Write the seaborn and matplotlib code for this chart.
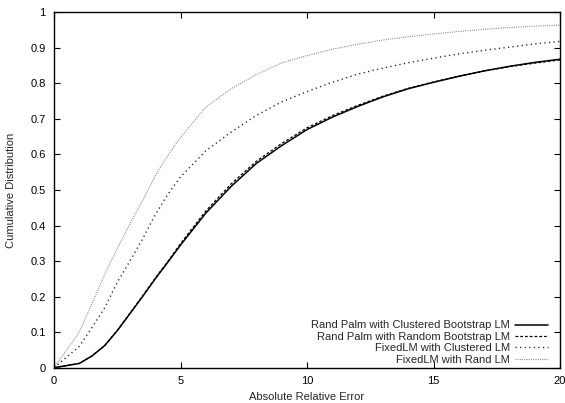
import numpy as np
import pandas as pd
import matplotlib
matplotlib.use("Agg")
import matplotlib.pyplot as plt
import seaborn as sns

# ---- data ----
x_vals = [0, 0.5, 1, 1.5, 2, 2.5, 3, 3.5, 4, 4.5, 5, 6, 7, 8, 9, 10,
          11, 12, 13, 14, 15, 16, 17, 18, 19, 20]

rand_palm_clustered = [0, 0.006, 0.012, 0.033, 0.062, 0.104, 0.152, 0.200, 0.250,
                       0.297, 0.345, 0.435, 0.510, 0.575, 0.625, 0.670, 0.705,
                       0.735, 0.762, 0.785, 0.803, 0.820, 0.835, 0.848, 0.859, 0.868]
rand_palm_random = [0, 0.006, 0.012, 0.033, 0.062, 0.105, 0.153, 0.202, 0.252,
                    0.299, 0.349, 0.441, 0.517, 0.581, 0.631, 0.675, 0.709,
                    0.738, 0.764, 0.786, 0.804, 0.820, 0.835, 0.847, 0.857, 0.866]
fixedlm_clustered = [0, 0.030, 0.060, 0.113, 0.168, 0.240, 0.300, 0.362, 0.430,
                     0.488, 0.537, 0.610, 0.663, 0.710, 0.748, 0.777, 0.803,
                     0.826, 0.843, 0.858, 0.871, 0.883, 0.893, 0.902, 0.911, 0.918]
fixedlm_rand = [0, 0.050, 0.100, 0.180, 0.262, 0.335, 0.405, 0.470, 0.540,
                0.597, 0.648, 0.733, 0.785, 0.825, 0.858, 0.878, 0.896,
                0.910, 0.922, 0.931, 0.939, 0.946, 0.952, 0.957, 0.961, 0.964]

series_names = ["Rand Palm with Clustered Bootstrap LM",
                "Rand Palm with Random Bootstrap LM",
                "FixedLM with Clustered LM",
                "FixedLM with Rand LM"]
series_values = [rand_palm_clustered, rand_palm_random, fixedlm_clustered, fixedlm_rand]

x_ticks = [0, 5, 10, 15, 20]
x_tick_labels = ["0", "5", "10", "15", "20"]
y_ticks = [0, 0.1, 0.2, 0.3, 0.4, 0.5, 0.6, 0.7, 0.8, 0.9, 1.0]
y_tick_labels = ["0", "0.1", "0.2", "0.3", "0.4", "0.5", "0.6", "0.7", "0.8", "0.9", "1"]

# ---- style ----
sns.set_style("ticks")
plt.rcParams["font.family"] = ["Liberation Sans", "DejaVu Sans"]
FS = 8.0

styles = [
    dict(color="black", linestyle="-", linewidth=1.1),
    dict(color="black", linestyle=(0, (2.2, 1.6)), linewidth=0.9),
    dict(color="#222222", linestyle=(0, (0.9, 2.4)), linewidth=1.0),
    dict(color="#777777", linestyle=(0, (0.8, 1.2)), linewidth=0.8),
]

fig = plt.figure(figsize=(5.65, 4.03), dpi=100)
ax = fig.add_axes([54 / 565, 1 - 367.7 / 403, (560 - 54) / 565, (367.7 - 12.3) / 403])

for name, vals, st in zip(series_names, series_values, styles):
    df = pd.DataFrame({"x": x_vals, "y": vals})
    sns.lineplot(data=df, x="x", y="y", ax=ax, label=name, **st)

ax.set_xlim(0, 20)
ax.set_ylim(0, 1)
ax.set_xticks(x_ticks)
ax.set_xticklabels(x_tick_labels)
ax.set_yticks(y_ticks)
ax.set_yticklabels(y_tick_labels)
ax.tick_params(direction="in", length=4.5, width=0.8, labelsize=FS,
               top=True, right=True, pad=6, colors="black")
for sp in ax.spines.values():
    sp.set_linewidth(1.0)
    sp.set_color("black")
    sp.set_visible(True)

ax.set_xlabel("Absolute Relative Error", fontsize=FS, labelpad=4)
ax.set_ylabel("Cumulative Distribution", fontsize=FS, labelpad=10)

leg = ax.legend(loc="lower right", bbox_to_anchor=(0.996, -0.02), frameon=False,
                fontsize=FS, markerfirst=False, handlelength=3.0,
                handletextpad=0.45, labelspacing=0.13, borderaxespad=0.5)

fig.savefig("out.png", dpi=100)
